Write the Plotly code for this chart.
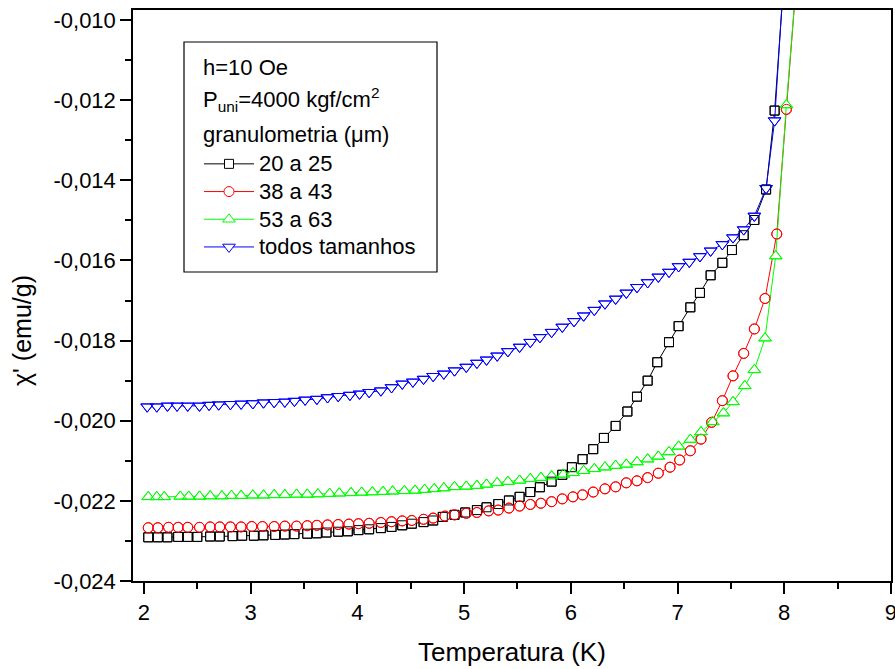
import plotly.graph_objects as go

# ---------------- data ----------------
T_20_25 = [2.04, 2.13, 2.22, 2.32, 2.41, 2.50, 2.62, 2.71, 2.83, 2.92, 3.03, 3.12, 3.23, 3.32,
           3.41, 3.53, 3.62, 3.71, 3.82, 3.91, 4.01, 4.11, 4.22, 4.32, 4.42, 4.51, 4.62, 4.71,
           4.80, 4.91, 5.01, 5.12, 5.21, 5.32, 5.42, 5.52, 5.62, 5.71, 5.82, 5.92, 6.01, 6.11,
           6.21, 6.31, 6.42, 6.53, 6.62, 6.72, 6.81, 6.92, 7.01, 7.12, 7.21, 7.31, 7.42, 7.51,
           7.62, 7.72, 7.83, 7.91, 8.01]
X_20_25 = [-0.02291, -0.02291, -0.02291, -0.02290, -0.02290, -0.02290, -0.02289, -0.02289,
           -0.02288, -0.02287, -0.02287, -0.02286, -0.02285, -0.02284, -0.02283, -0.02282,
           -0.02281, -0.02279, -0.02277, -0.02276, -0.02273, -0.02271, -0.02268, -0.02265,
           -0.02261, -0.02257, -0.02253, -0.02249,
           -0.02240, -0.02235, -0.02229, -0.02223, -0.02216, -0.02208, -0.02199, -0.02190,
           -0.02178, -0.02166, -0.02152, -0.02135, -0.02116, -0.02096, -0.02071, -0.02043,
           -0.02013, -0.01977, -0.01940, -0.01900, -0.01854, -0.01804, -0.01764, -0.01717,
           -0.01681, -0.01637, -0.01606, -0.01574, -0.01537, -0.01499, -0.01423, -0.01226,
           -0.00850]

T_38_43 = [2.04, 2.13, 2.23, 2.32, 2.41, 2.52, 2.62, 2.71, 2.81, 2.91, 3.01, 3.11, 3.22, 3.32,
           3.43, 3.53, 3.62, 3.72, 3.82, 3.92, 4.01, 4.11, 4.22, 4.32, 4.42, 4.51, 4.62, 4.71,
           4.82, 4.91, 5.02, 5.12, 5.23, 5.32, 5.42, 5.52, 5.62, 5.72, 5.82, 5.92, 6.02, 6.11,
           6.21, 6.32, 6.42, 6.52, 6.62, 6.72, 6.82, 6.93, 7.02, 7.12, 7.22, 7.32, 7.42, 7.52,
           7.62, 7.72, 7.82, 7.93, 8.02, 8.12]
X_38_43 = [-0.02267, -0.02267, -0.02266, -0.02266, -0.02266, -0.02266, -0.02265, -0.02265,
           -0.02265, -0.02265, -0.02264, -0.02264, -0.02264, -0.02263, -0.02263, -0.02262,
           -0.02261, -0.02260, -0.02259, -0.02258, -0.02257, -0.02256, -0.02254, -0.02252,
           -0.02250, -0.02249, -0.02246, -0.02243,
           -0.02238, -0.02235, -0.02231, -0.02229, -0.02225, -0.02223, -0.02218, -0.02213,
           -0.02209, -0.02206, -0.02202, -0.02195, -0.02190, -0.02185, -0.02178, -0.02170,
           -0.02165, -0.02155, -0.02150, -0.02142, -0.02131, -0.02116, -0.02098, -0.02075,
           -0.02046, -0.02004, -0.01950, -0.01888, -0.01832, -0.01771, -0.01695, -0.01534,
           -0.01223, -0.00880]

T_53_63 = [2.04, 2.12, 2.19, 2.34, 2.42, 2.52, 2.62, 2.73, 2.82, 2.91, 3.02, 3.12, 3.22, 3.32,
           3.43, 3.53, 3.63, 3.74, 3.83, 3.94, 4.04, 4.14, 4.24, 4.33, 4.44, 4.54, 4.63,
           4.72, 4.81, 4.91, 5.02, 5.12, 5.21, 5.31, 5.41, 5.52, 5.62, 5.72, 5.82, 5.93, 6.02,
           6.12, 6.22, 6.32, 6.42, 6.52, 6.62, 6.72, 6.82, 6.92, 7.01, 7.12, 7.22, 7.33, 7.43,
           7.52, 7.63, 7.72, 7.82, 7.92, 8.02, 8.12]
X_53_63 = [-0.02190, -0.02190, -0.02190, -0.02189, -0.02189, -0.02189, -0.02188, -0.02188,
           -0.02187, -0.02187, -0.02186, -0.02186, -0.02185, -0.02185, -0.02184, -0.02184,
           -0.02183, -0.02182, -0.02181, -0.02180, -0.02179, -0.02178, -0.02177, -0.02176,
           -0.02175, -0.02174, -0.02172,
           -0.02170, -0.02168, -0.02165, -0.02164, -0.02162, -0.02159, -0.02155, -0.02152,
           -0.02149, -0.02145, -0.02142, -0.02138, -0.02134, -0.02130, -0.02125, -0.02120,
           -0.02116, -0.02112, -0.02109, -0.02103, -0.02096, -0.02089, -0.02078, -0.02064,
           -0.02047, -0.02028, -0.02003, -0.01981, -0.01953, -0.01913, -0.01873, -0.01794,
           -0.01589, -0.01212, -0.00880]

T_todos = [2.03, 2.12, 2.22, 2.31, 2.41, 2.52, 2.61, 2.70, 2.81, 2.91, 3.02, 3.12, 3.22, 3.32,
           3.41, 3.51, 3.62, 3.72, 3.82, 3.93, 4.02, 4.11, 4.22, 4.32, 4.42, 4.52, 4.62,
           4.71, 4.81, 4.91, 5.02, 5.12, 5.21, 5.31, 5.41, 5.52, 5.62, 5.71, 5.82, 5.92, 6.03,
           6.12, 6.22, 6.32, 6.42, 6.52, 6.62, 6.72, 6.82, 6.92, 7.01, 7.11, 7.21, 7.31,
           7.42, 7.52, 7.62, 7.72, 7.83, 7.91, 8.01]
X_todos = [-0.01965, -0.01965, -0.01963, -0.01963, -0.01963, -0.01963, -0.01961, -0.01960,
           -0.01959, -0.01958, -0.01957, -0.01955, -0.01954, -0.01953, -0.01951, -0.01948,
           -0.01946, -0.01942, -0.01939, -0.01936, -0.01933, -0.01929, -0.01925, -0.01917,
           -0.01908, -0.01903, -0.01896,
           -0.01889, -0.01883, -0.01875, -0.01866, -0.01856, -0.01848, -0.01838, -0.01827,
           -0.01816, -0.01804, -0.01792, -0.01779, -0.01766, -0.01752, -0.01738, -0.01724,
           -0.01708, -0.01696, -0.01681, -0.01667, -0.01655, -0.01641, -0.01629, -0.01615,
           -0.01604, -0.01590, -0.01576,
           -0.01560, -0.01543, -0.01523, -0.01489, -0.01420, -0.01251, -0.00830]

series_names = ["20 a 25", "38 a 43", "53 a 63", "todos tamanhos"]
series_T = [T_20_25, T_38_43, T_53_63, T_todos]
series_X = [X_20_25, X_38_43, X_53_63, X_todos]
series_colors = ["#000000", "#FF0000", "#00FF00", "#0000FF"]
series_symbols = ["square", "circle", "triangle-up", "triangle-down"]
series_sizes = [9, 10, 11, 11]

legend_header = ["h=10 Oe", "P<sub>uni</sub>=4000 kgf/cm<sup>2</sup>", "granulometria (μm)"]

y_tickvals = [-0.024, -0.022, -0.020, -0.018, -0.016, -0.014, -0.012, -0.010]
y_ticktext = ["-0,024", "-0,022", "-0,020", "-0,018", "-0,016", "-0,014", "-0,012", "-0,010"]
x_tickvals = [2, 3, 4, 5, 6, 7, 8, 9]

FONT = "Arial, 'Liberation Sans', sans-serif"

# plot-area geometry in pixels (for placing the legend decorations)
W, H = 895, 669
ML, MR, MT, MB = 133, 4, 10, 88
PW, PH = W - ML - MR, H - MT - MB


def px_x(px):
    return (px - ML) / PW


def px_y(py):
    return 1 - (py - MT) / PH


fig = go.Figure()

# lines with white-filled markers (hide the line inside each symbol)
for name, T, X, c, s, sz in zip(series_names, series_T, series_X, series_colors,
                                series_symbols, series_sizes):
    fig.add_trace(go.Scatter(
        x=T, y=X, name='<span style="font-size:22px">' + name + '</span>',
        mode="lines+markers",
        line=dict(color=c, width=1),
        marker=dict(symbol=s, size=sz, color="white", line=dict(color=c, width=1)),
    ))

# open outlines on top so overlapping symbols stay visible
for name, T, X, c, s, sz in zip(series_names, series_T, series_X, series_colors,
                                series_symbols, series_sizes):
    fig.add_trace(go.Scatter(
        x=T, y=X, mode="markers", showlegend=False, hoverinfo="skip",
        marker=dict(symbol=s + "-open", size=sz, color=c, line=dict(color=c, width=1)),
    ))

header_y = [67, 99, 135]
annotations = [
    dict(text="Temperatura (K)", xref="paper", yref="paper", x=0.5, y=px_y(652),
         xanchor="center", yanchor="middle", showarrow=False,
         font=dict(family=FONT, size=26, color="black")),
    dict(text="χ' (emu/g)", xref="paper", yref="paper", x=px_x(22), y=px_y(330),
         xanchor="center", yanchor="middle", showarrow=False, textangle=-90,
         font=dict(family=FONT, size=25, color="black")),
]
for txt, yy in zip(legend_header, header_y):
    annotations.append(dict(text=txt, xref="paper", yref="paper", x=px_x(201), y=px_y(yy),
                            xanchor="left", yanchor="middle", showarrow=False,
                            font=dict(family=FONT, size=22, color="black")))

fig.update_layout(
    width=W, height=H,
    margin=dict(l=ML, r=MR, t=MT, b=MB, autoexpand=False),
    paper_bgcolor="white", plot_bgcolor="white",
    font=dict(family=FONT, size=22, color="black"),
    showlegend=True,
    legend=dict(
        x=px_x(199), y=px_y(145), xanchor="left", yanchor="top",
        bgcolor="rgba(0,0,0,0)", borderwidth=0,
        font=dict(family=FONT, size=19, color="black"),
        tracegroupgap=0, itemsizing="trace", itemwidth=50,
    ),
    shapes=[dict(type="rect", xref="paper", yref="paper",
                 x0=px_x(184), x1=px_x(437), y0=px_y(272), y1=px_y(42),
                 line=dict(color="black", width=1.2), fillcolor="white", layer="below")],
    xaxis=dict(
        range=[1.897, 9.0005], tickvals=x_tickvals,
        showgrid=False, zeroline=False, automargin=False,
        showline=True, linecolor="black", linewidth=1.5, mirror=True,
        ticks="outside", ticklen=11, tickwidth=1.5, tickcolor="black",
        ticklabeloverflow="allow",
        minor=dict(ticks="outside", ticklen=6, tickwidth=1.5, tickcolor="black", dtick=0.5,
                   showgrid=False),
        tickfont=dict(family=FONT, size=22),
    ),
    yaxis=dict(
        range=[-0.024, -0.00975], tickvals=y_tickvals, ticktext=y_ticktext,
        showgrid=False, zeroline=False, automargin=False,
        showline=True, linecolor="black", linewidth=1.5, mirror=True,
        ticks="outside", ticklen=11, tickwidth=1.5, tickcolor="black",
        minor=dict(ticks="outside", ticklen=6, tickwidth=1.5, tickcolor="black", dtick=0.001,
                   tick0=-0.024, showgrid=False),
        tickfont=dict(family=FONT, size=22),
    ),
    annotations=annotations,
)

fig.write_html("out.html")
